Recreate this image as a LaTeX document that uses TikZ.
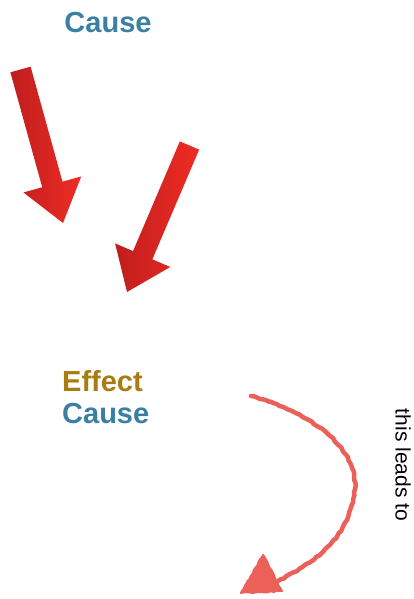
\documentclass[tikz,border=0pt]{standalone}
\usepackage{fontspec}
\setmainfont{Liberation Sans}
\usetikzlibrary{arrows.meta,calc,positioning,decorations.pathmorphing}
\definecolor{causecol}{RGB}{58,128,162}
\definecolor{effectcol}{RGB}{168,124,16}
\definecolor{darkred}{RGB}{190,30,30}
\definecolor{brightred}{RGB}{240,44,36}
\definecolor{sketchcol}{RGB}{236,96,90}
\tikzset{
  % bold label
  lbl/.style={font=\fontsize{29}{32}\selectfont\bfseries, text=#1, inner sep=0pt},
  lbl/.default={causecol},
  % plain side note
  note/.style={font=\fontsize{21}{24}\selectfont, inner sep=0pt},
  % fat shaded arrow body
  fatarrow/.style={left color=darkred, right color=brightred, draw=none},
  % hand drawn stroke
  sketch/.style={draw=sketchcol, line width=4.5pt, line cap=round, line join=round,
    decorate, decoration={random steps, segment length=3pt, amplitude=0.6pt}},
}
% fat arrow from #1 (tail middle) to #2 (tip)
\newcommand{\fatarrowbetween}[2]{%
  \coordinate (h) at ($(#2)!40pt!(#1)$);
  \path[fatarrow] ($(#1)!10.5pt!90:(#2)$) -- ($(h)!10.5pt!90:(#2)$)
    -- ($(h)!30pt!90:(#2)$) -- (#2) -- ($(h)!30pt!-90:(#2)$)
    -- ($(h)!10.5pt!-90:(#2)$) -- ($(#1)!10.5pt!-90:(#2)$) -- cycle;
}

\begin{document}
\begin{tikzpicture}[x=1pt, y=-1pt]
  \useasboundingbox (0,0) rectangle (414,599);

  % labels
  \node[lbl, anchor=base] (cause1) at (108,33) {Cause};
  \node[lbl=effectcol, anchor=base west] (effect) at (62,391) {Effect};
  \node[lbl, anchor=base west] (cause2) at (62,423) {Cause};

  % red arrows
  \coordinate (a1tail) at (20.5,69.5);
  \coordinate (a1tip) at (63,223);
  \coordinate (a2tail) at (189.5,145.5);
  \coordinate (a2tip) at (127,292);
  \fatarrowbetween{a1tail}{a1tip}
  \fatarrowbetween{a2tail}{a2tip}

  % hand drawn curve
  \coordinate (leadstart) at (251,396);
  \coordinate (leadend) at (278,581);
  \draw[sketch] (leadstart) .. controls (320,415) and (365,455) .. (353,500)
    .. controls (345,540) and (315,562) .. (leadend);
  \filldraw[sketch, fill=sketchcol, line width=2pt] (263,555) -- (241,593) -- (282,591) -- cycle;

  \node[note, rotate=-90] (leads) at (403,465) {this leads to};
\end{tikzpicture}
\end{document}
